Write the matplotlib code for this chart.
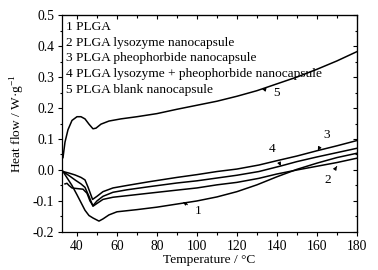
import matplotlib
matplotlib.use("Agg")
import matplotlib.pyplot as plt
from matplotlib.ticker import MultipleLocator

plt.rcParams['font.family'] = ['Liberation Serif', 'DejaVu Serif']
plt.rcParams['mathtext.fontset'] = 'custom'
plt.rcParams['mathtext.rm'] = 'Liberation Serif'

# DSC curves (temperature in degC, heat flow in W/g)
x1 = [33, 35, 37.5, 40, 42, 44, 46, 48, 51, 53, 56, 60, 70, 80, 90, 100, 110, 120, 130, 140, 150, 160, 170, 180]
y1 = [-0.005, -0.025, -0.05, -0.08, -0.105, -0.13, -0.147, -0.155, -0.165, -0.158, -0.145, -0.135, -0.128, -0.12,
      -0.11, -0.1, -0.087, -0.07, -0.048, -0.022, 0.002, 0.022, 0.04, 0.054]

x2 = [33, 36, 39, 42, 44, 46, 48, 50, 53, 58, 65, 76, 90, 100, 110, 120, 131, 140, 150, 160, 170, 180]
y2 = [-0.005, -0.018, -0.032, -0.045, -0.056, -0.085, -0.117, -0.108, -0.095, -0.088, -0.083, -0.075, -0.065,
      -0.058, -0.048, -0.04, -0.027, -0.013, 0.0, 0.012, 0.024, 0.038]

x3 = [33, 36, 39, 42, 44, 45.5, 47.8, 50, 53, 58, 65, 76, 90, 100, 110, 120, 131, 140, 150, 160, 170, 180]
y3 = [-0.005, -0.01, -0.016, -0.024, -0.032, -0.055, -0.095, -0.085, -0.07, -0.058, -0.05, -0.038, -0.024,
      -0.015, -0.005, 0.003, 0.016, 0.03, 0.045, 0.062, 0.078, 0.095]

x4 = [34, 35, 36, 37.5, 40, 43, 45, 46.5, 48, 50, 53, 58, 65, 76, 90, 100, 110, 120, 131, 142, 150, 160, 170, 180]
y4 = [-0.045, -0.043, -0.05, -0.058, -0.06, -0.062, -0.075, -0.1, -0.115, -0.1, -0.085, -0.072, -0.064, -0.054,
      -0.042, -0.035, -0.026, -0.017, -0.005, 0.013, 0.027, 0.042, 0.056, 0.07]

x5 = [33, 34, 35.5, 37.5, 40, 42, 44, 46, 48, 49.5, 52, 56, 62, 70, 80, 90, 100, 110, 120, 130, 140, 150, 160, 170, 180]
y5 = [0.04, 0.09, 0.13, 0.16, 0.172, 0.172, 0.165, 0.148, 0.133, 0.135, 0.148, 0.158, 0.165, 0.172, 0.182, 0.196,
      0.209, 0.222, 0.238, 0.256, 0.278, 0.3, 0.325, 0.352, 0.382]

legend_lines = ['1 PLGA', '2 PLGA lysozyme nanocapsule', '3 PLGA pheophorbide nanocapsule',
                '4 PLGA lysozyme + pheophorbide nanocapsule', '5 PLGA blank nanocapsule']

# curve number labels: text position, arrow tip
labels = ['1', '2', '3', '4', '5']
label_xy = [(100.7, -0.134), (165.7, -0.032), (164.8, 0.113), (137.8, 0.067), (140, 0.25)]
tip_xy = [(93, -0.103), (170, 0.012), (160.5, 0.063), (142, 0.013), (132.5, 0.262)]

fig = plt.figure(figsize=(3.78, 2.70), dpi=100)
ax = fig.add_axes([0.164, 0.141, 0.780, 0.803])

for xs, ys in [(x1, y1), (x2, y2), (x3, y3), (x4, y4), (x5, y5)]:
    ax.plot(xs, ys, color='black', lw=1.1)

for lab, (tx, ty), (px, py) in zip(labels, label_xy, tip_xy):
    ax.annotate(lab, xy=(px, py), xytext=(tx, ty), fontsize=9.5, ha='center', va='center',
                arrowprops=dict(arrowstyle='-|>', color='black', lw=0.7, mutation_scale=5,
                                shrinkA=4, shrinkB=0))

for i, t in enumerate(legend_lines):
    ax.text(0.012, 0.974 - i * 0.073, t, transform=ax.transAxes, fontsize=9.6, va='top', ha='left')

ax.set_xlim(32.5, 180)
ax.set_ylim(-0.2, 0.5)
ax.xaxis.set_major_locator(MultipleLocator(20))
ax.xaxis.set_minor_locator(MultipleLocator(10))
ax.yaxis.set_major_locator(MultipleLocator(0.1))
ax.yaxis.set_minor_locator(MultipleLocator(0.05))
ax.yaxis.set_major_formatter(plt.FuncFormatter(lambda v, p: '%.1f' % v))
ax.tick_params(which='both', direction='out', labelsize=9.8, width=0.8)
ax.tick_params(which='major', length=3, pad=2.5)
ax.tick_params(which='minor', length=1.8)
ax.tick_params(top=False, right=False)

# inward ticks on top and right
ax_t = ax.secondary_xaxis('top')
ax_t.xaxis.set_major_locator(MultipleLocator(20))
ax_t.xaxis.set_minor_locator(MultipleLocator(10))
ax_t.tick_params(which='both', direction='in', labeltop=False, width=0.8)
ax_t.tick_params(which='major', length=3)
ax_t.tick_params(which='minor', length=1.8)
ax_r = ax.secondary_yaxis('right')
ax_r.yaxis.set_major_locator(MultipleLocator(0.1))
ax_r.yaxis.set_minor_locator(MultipleLocator(0.05))
ax_r.tick_params(which='both', direction='in', labelright=False, width=0.8)
ax_r.tick_params(which='major', length=3)
ax_r.tick_params(which='minor', length=1.8)

for s in ax.spines.values():
    s.set_linewidth(0.9)

ax.set_xlabel('Temperature / \u00b0C', fontsize=9.6, labelpad=1)
ax.set_ylabel('Heat flow / W\u00b7g$^{-1}$', fontsize=9.6, labelpad=4)

fig.savefig('out.png', dpi=100)
